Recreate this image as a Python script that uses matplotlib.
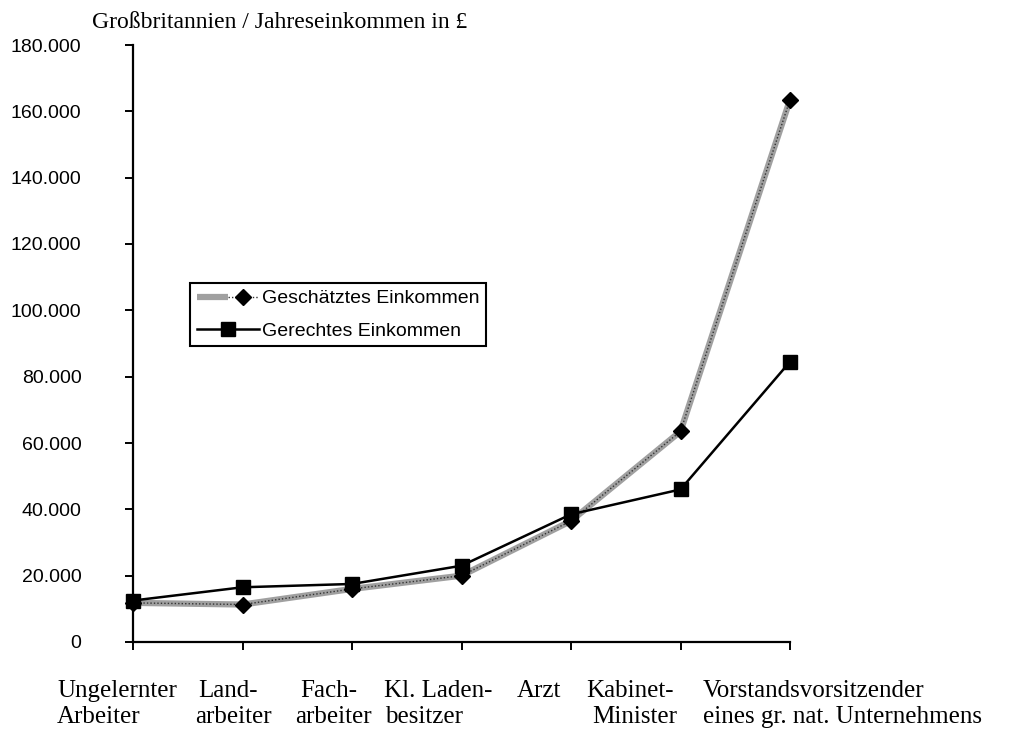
# -*- coding:utf-8 -*-
import matplotlib
matplotlib.use('Agg')
import matplotlib.pyplot as plt
from matplotlib.ticker import FuncFormatter
from matplotlib.legend_handler import HandlerTuple

plt.rcParams['font.family'] = ['Liberation Sans', 'DejaVu Sans']

# Daten
kategorien = ['Ungelernter Arbeiter', 'Landarbeiter', 'Facharbeiter', 'Kl. Ladenbesitzer',
              'Arzt', 'Kabinet-Minister', 'Vorstandsvorsitzender eines gr. nat. Unternehmens']
geschaetzt = [11800, 11300, 16000, 20000, 36500, 63500, 163500]
gerecht = [12500, 16500, 17500, 23000, 38500, 46000, 84500]
label_zeilen = [('Ungelernter', 'Arbeiter'), ('Land-', 'arbeiter'), ('Fach-', 'arbeiter'),
                ('Kl. Laden-', 'besitzer'), ('Arzt', ''), ('Kabinet-', 'Minister'),
                ('Vorstandsvorsitzender', 'eines gr. nat. Unternehmens')]
titel = 'Großbritannien / Jahreseinkommen in £'

# Layout (Pixel)
W, H = 1011, 731
label_x = [(57, 57), (198, 195), (300, 295), (384, 385), (517, 517), (586, 592), (703, 703)]


def main():
    fig = plt.figure(figsize=(W / 100, H / 100), dpi=100)
    ax = fig.add_axes([133 / W, (H - 642) / H, (790 - 133) / W, (642 - 45) / H])

    x = list(range(len(kategorien)))
    # grau gesprenkelte Linie: grau + punktiert darueber
    g1, = ax.plot(x, geschaetzt, color='#a0a0a0', lw=4.5, solid_capstyle='butt', clip_on=False, zorder=2)
    g2, = ax.plot(x, geschaetzt, color='#333333', lw=1, ls=(0, (1, 1.5)), marker='D', ms=8.5,
                  mfc='black', mec='black', clip_on=False, zorder=3)
    h2, = ax.plot(x, gerecht, color='black', lw=1.8, marker='s', ms=10.5, mfc='black', mec='black',
                  clip_on=False, zorder=4)

    ax.set_xlim(0, 6)
    ax.set_ylim(0, 180000)
    ax.set_yticks(range(0, 180001, 20000))
    ax.yaxis.set_major_formatter(FuncFormatter(lambda v, p: f'{int(v):,}'.replace(',', '.')))
    ax.set_xticks(x)
    ax.set_xticklabels([])
    for s in ['top', 'right']:
        ax.spines[s].set_visible(False)
    for s in ['left', 'bottom']:
        ax.spines[s].set_linewidth(1.6)
    ax.tick_params(axis='y', direction='out', length=6, width=1.4, pad=31, labelsize=14)
    ax.tick_params(axis='x', direction='out', length=6, width=1.4)

    # Legende
    leg = ax.legend([(g1, g2), h2], ['Geschätztes Einkommen', 'Gerechtes Einkommen'],
                    handler_map={tuple: HandlerTuple(ndivide=None, pad=0)},
                    loc='upper left', bbox_to_anchor=(190 / W, 1 - 283 / H),
                    bbox_transform=fig.transFigure, borderaxespad=0, fancybox=False,
                    framealpha=1, edgecolor='black', fontsize=14, handlelength=3.2,
                    handletextpad=0.15, labelspacing=0.75, borderpad=0.35)
    leg.get_frame().set_linewidth(1.5)

    # Titel
    fig.text(92 / W, 1 - 28 / H, titel, family='Liberation Serif', fontsize=17, va='baseline')

    # Kategorienbeschriftung
    for (z1, z2), (x1, x2) in zip(label_zeilen, label_x):
        fig.text(x1 / W, 1 - 697 / H, z1, family='Liberation Serif', fontsize=18, va='baseline')
        if z2:
            fig.text(x2 / W, 1 - 723 / H, z2, family='Liberation Serif', fontsize=18, va='baseline')

    plt.savefig('out.png', dpi=100)


if __name__ == "__main__":
    main()
